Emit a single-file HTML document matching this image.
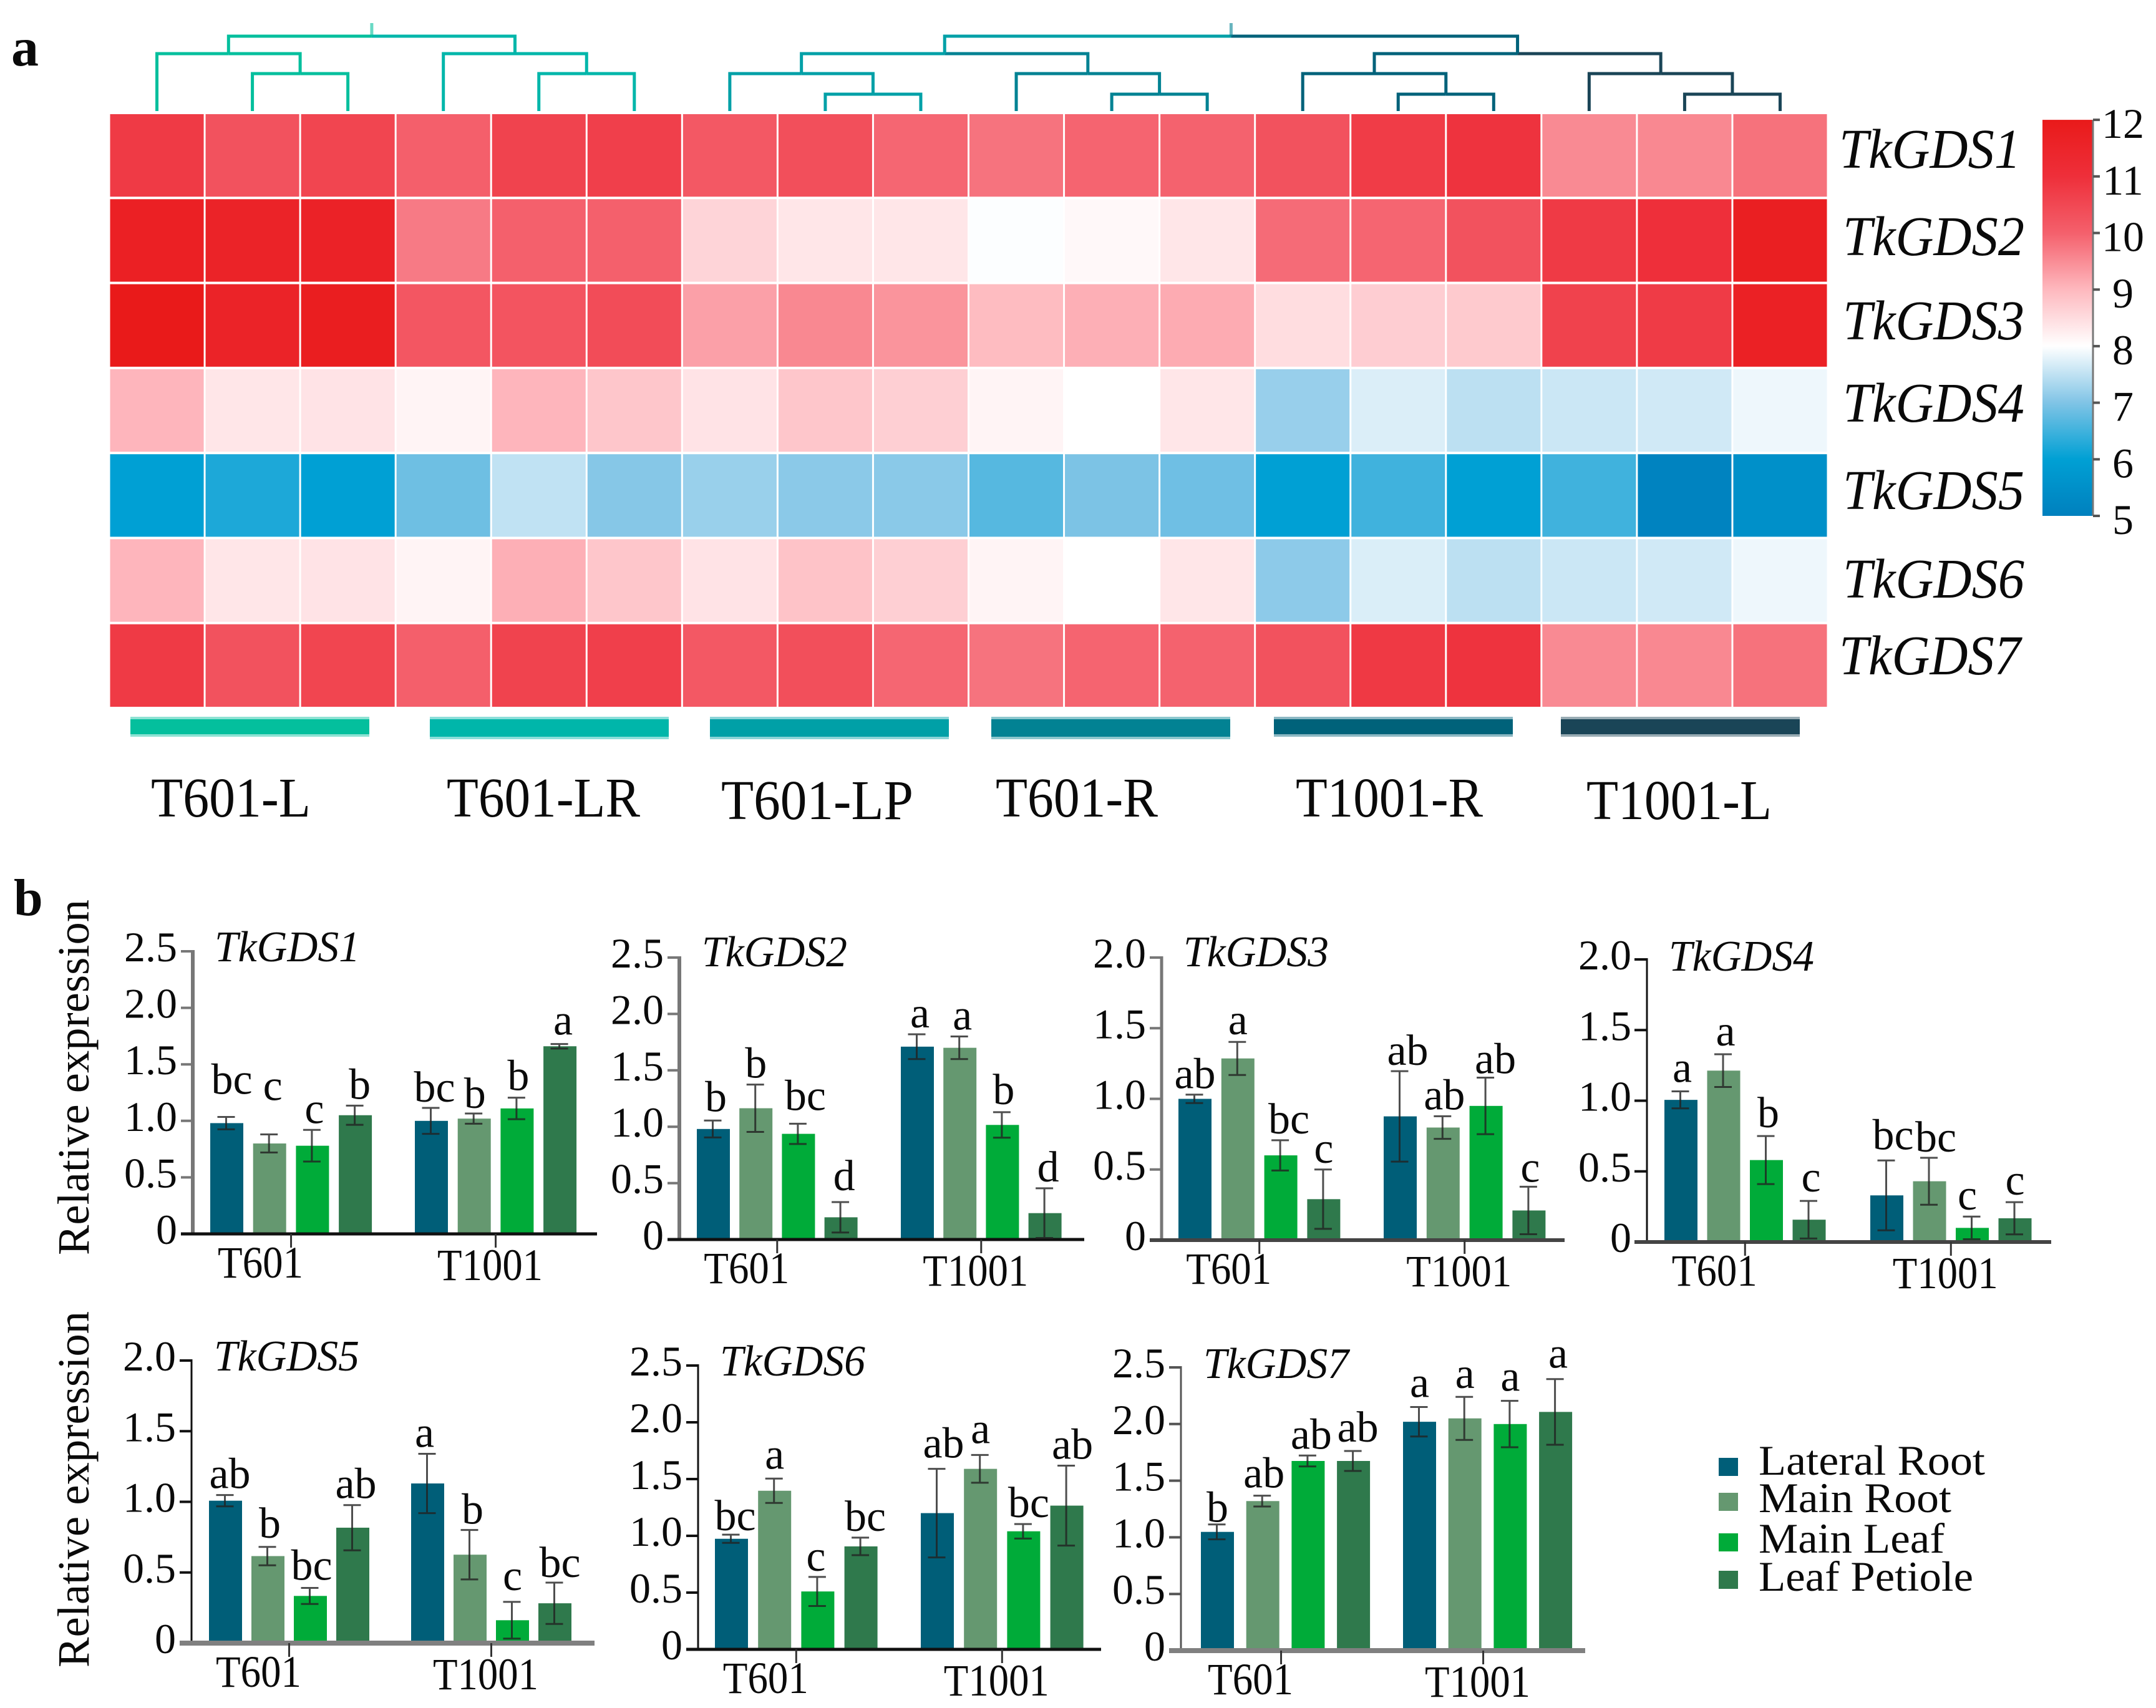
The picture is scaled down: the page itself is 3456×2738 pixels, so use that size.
<!DOCTYPE html>
<html lang="en">
<head>
<meta charset="utf-8">
<title>TkGDS expression heatmap and bar charts</title>
<style>
html,body{margin:0;padding:0;background:#fff;width:3456px;height:2738px;overflow:hidden}
svg{display:block}
text{font-family:"Liberation Serif","DejaVu Serif",serif;fill:#0a0a0a}
</style>
</head>
<body>
<svg id="figure" xmlns="http://www.w3.org/2000/svg" width="3456" height="2738" viewBox="0 0 3456 2738">
  <rect x="0" y="0" width="3456" height="2738" fill="#ffffff"/>
  <text x="18" y="105" font-size="88" font-weight="700">a</text>
  <text x="22" y="1467" font-size="84" font-weight="700">b</text>
  <defs><linearGradient id="cbarGradient" x1="0" y1="1" x2="0" y2="0"></linearGradient></defs>
</svg>
<script>
// ---------- Heatmap data ----------
const sampleCount = 18;
const geneNames = ['TkGDS1','TkGDS2','TkGDS3','TkGDS4','TkGDS5','TkGDS6','TkGDS7'];
const exprGDS1 = [10.78,10.29,10.55,10.02,10.6,10.67,10.16,10.35,9.93,9.78,9.95,9.98,10.29,10.73,10.92,9.52,9.55,9.8];
const exprGDS2 = [11.7,11.57,11.6,9.7,10,10,8.6,8.35,8.35,7.98,8.1,8.35,9.87,9.94,10.29,10.78,11.0,11.76];
const exprGDS3 = [12,11.57,11.8,10.2,10.25,10.41,9.27,9.55,9.41,8.95,9.1,9.15,8.48,8.7,8.75,10.62,10.76,11.65];
const exprGDS4 = [9.03,8.35,8.39,8.15,9.03,8.8,8.39,8.8,8.68,8.15,8,8.35,7.19,7.72,7.47,7.59,7.63,7.87];
const exprGDS5 = [6.0,6.23,6.0,6.86,7.5,7.05,7.2,7.09,7.08,6.67,6.97,6.87,6.0,6.5,6.0,6.5,5.1,5.5];
const exprGDS6 = [9.03,8.35,8.39,8.15,9.1,8.8,8.39,8.85,8.68,8.15,8,8.35,7.1,7.71,7.47,7.59,7.63,7.87];
const exprGDS7 = [10.78,10.29,10.55,10.02,10.6,10.67,10.16,10.35,9.93,9.78,9.95,9.98,10.29,10.8,10.92,9.52,9.55,9.8];
const colorbarTicks = [5,6,7,8,9,10,11,12];
const colorStops = [[5,'#0080be'],[6,'#00a0d4'],[7,'#80c4e6'],[8,'#ffffff'],[9,'#feb8be'],[10,'#f4606c'],[11,'#ee2f3a'],[12,'#e91a1a']];
const sampleGroups = ['T601-L','T601-LR','T601-LP','T601-R','T1001-R','T1001-L'];
const groupColors = ['#04bf9d','#00b6aa','#00a0a7','#028293','#00627a','#1a4557'];
// dendrogram: [merge height, left, right]; a bare number is a leaf index
const dendroLeft = [120,[92,0,[60,1,2]],[92,3,[60,4,5]]];
const dendroRight = [120,[92,[60,6,[27,7,8]],[60,9,[27,10,11]]],[92,[60,12,[27,13,14]],[60,15,[27,16,17]]]];

// ---------- Bar chart data ----------
const tissues = ['Lateral Root','Main Root','Main Leaf','Leaf Petiole'];
const tissueColors = ['#005e78','#659870','#00ab39','#2f794c'];
const cultivars = ['T601','T1001'];
const ticks25 = ['0','0.5','1.0','1.5','2.0','2.5'];
const ticks20 = ['0','0.5','1.0','1.5','2.0'];

const values1 = [0.98,0.80,0.78,1.05,1.00,1.02,1.11,1.66];
const errors1 = [0.055,0.08,0.14,0.085,0.115,0.045,0.095,0.02];
const letters1 = ['bc','c','c','b','bc','b','b','a'];

const values2 = [0.98,1.164,0.937,0.197,1.71,1.70,1.016,0.234];
const errors2 = [0.075,0.21,0.09,0.135,0.11,0.10,0.113,0.22];
const letters2 = ['b','b','bc','d','a','a','b','d'];

const values3 = [1.0,1.286,0.60,0.29,0.876,0.797,0.95,0.21];
const errors3 = [0.03,0.117,0.107,0.21,0.32,0.08,0.20,0.168];
const letters3 = ['ab','a','bc','c','ab','ab','ab','c'];

const values4 = [1.006,1.213,0.58,0.158,0.33,0.43,0.10,0.168];
const errors4 = [0.06,0.116,0.17,0.133,0.247,0.166,0.08,0.114];
const letters4 = ['a','a','b','c','bc','bc','c','c'];

const values5 = [1.008,0.616,0.334,0.817,1.13,0.626,0.162,0.282];
const errors5 = [0.04,0.065,0.057,0.16,0.21,0.175,0.13,0.146];
const letters5 = ['ab','b','bc','ab','a','b','c','bc'];

const values6 = [0.974,1.397,0.51,0.907,1.2,1.59,1.04,1.266];
const errors6 = [0.036,0.107,0.128,0.077,0.39,0.122,0.064,0.352];
const letters6 = ['bc','a','c','bc','ab','a','bc','ab'];

const values7 = [1.048,1.32,1.674,1.674,2.02,2.05,2.0,2.107];
const errors7 = [0.066,0.048,0.048,0.088,0.13,0.19,0.205,0.29];
const letters7 = ['b','ab','ab','ab','a','a','a','a'];

// ---------- Helpers ----------
const svg = document.getElementById('figure');
const NS = 'http://www.w3.org/2000/svg';
function make(tag, attrs, parent){
  const el = document.createElementNS(NS, tag);
  for (const k in attrs) el.setAttribute(k, attrs[k]);
  (parent || svg).appendChild(el);
  return el;
}
function makeText(str, attrs, parent){
  const el = make('text', attrs, parent);
  el.textContent = str;
  return el;
}
function hexToRgb(h){ return [1,3,5].map(i => parseInt(h.substr(i,2),16)); }
function colorFor(v){
  const c = Math.max(colorStops[0][0], Math.min(colorStops[colorStops.length-1][0], v));
  for (let i = 0; i < colorStops.length-1; i++){
    const a = colorStops[i], b = colorStops[i+1];
    if (c <= b[0]){
      const t = (c-a[0])/(b[0]-a[0]);
      const A = hexToRgb(a[1]), B = hexToRgb(b[1]);
      return 'rgb(' + A.map((x,j) => Math.round(x+(B[j]-x)*t)).join(',') + ')';
    }
  }
  return colorStops[colorStops.length-1][1];
}

// ---------- Heatmap ----------
const heatLeft = 175, heatTop = 181, heatRight = 2930, heatBottom = 1135;
const cellW = (heatRight-heatLeft)/sampleCount;
const cellH = (heatBottom-heatTop)/geneNames.length;
const heatRows = [exprGDS1,exprGDS2,exprGDS3,exprGDS4,exprGDS5,exprGDS6,exprGDS7];
const colX = i => heatLeft + i*cellW;
const colMid = i => heatLeft + (i+0.5)*cellW;
const rowY = i => heatTop + i*cellH;
const heatGroup = make('g', {});


heatRows.forEach((row, r) => {
  row.forEach((v, c) => {
    const cell = make('rect', {x: colX(c)+1.5, y: rowY(r)+2, width: cellW-3, height: cellH-4, fill: colorFor(v)}, heatGroup);
    
    
  });
});
const geneLabelBaselines = [269,409,544,676,816,958,1081];
geneNames.forEach((g, r) => {
  const startX = (r === 0 || r === 6) ? 2948 : 2954;
  const lab = makeText(g, {x: startX, y: geneLabelBaselines[r], 'font-size': 90, 'font-style': 'italic', textLength: 291, lengthAdjust: 'spacingAndGlyphs'});
  
  
});

// ---------- Sample group bars and labels ----------
const groupBarLefts = [209,689,1138,1589,2042,2502];
const groupBarBottoms = [1177,1181,1181,1181,1177,1177];
const groupLabelLayout = [[242,256,1309],[716,310,1309],[1156,308,1313],[1596,260,1309],[2077,300,1309],[2543,297,1313]];
sampleGroups.forEach((g, i) => {
  const edge = make('rect', {x: groupBarLefts[i], y: 1149, width: 383, height: groupBarBottoms[i]-1149+4, fill: groupColors[i], opacity: 0.45});
  
  
  const bar = make('rect', {x: groupBarLefts[i], y: 1153, width: 383, height: groupBarBottoms[i]-1153, fill: groupColors[i]});
  
  
  const L = groupLabelLayout[i];
  const lab = makeText(g, {x: L[0], y: L[2], 'font-size': 90, textLength: L[1], lengthAdjust: 'spacingAndGlyphs'});
  
  
});

// ---------- Dendrogram ----------
const dendroY = h => 178 - h;
const leafGroup = i => Math.floor(i/3);
function firstLeaf(n){ return typeof n === 'number' ? n : firstLeaf(n[1]); }
const dendroG = make('g', {fill: 'none', 'stroke-width': 5});


function drawNode(n){
  if (typeof n === 'number') return {x: colMid(n), h: 0};
  const a = drawNode(n[1]), b = drawNode(n[2]);
  const mid = (a.x+b.x)/2, y = dendroY(n[0]);
  [[a,n[1]],[b,n[2]]].forEach(pair => {
    const child = pair[0], col = groupColors[leafGroup(firstLeaf(pair[1]))];
    const link = make('path', {d: 'M' + mid + ' ' + y + 'H' + child.x + 'V' + dendroY(child.h), stroke: col}, dendroG);
    
    
  });
  return {x: mid, h: n[0]};
}
[dendroLeft, dendroRight].forEach((tree, i) => {
  const root = drawNode(tree);
  const stem = make('path', {d: 'M' + root.x + ' ' + dendroY(root.h) + 'V37', stroke: groupColors[i === 0 ? 0 : 3], opacity: 0.6}, dendroG);
  
  
});

// ---------- Colour bar ----------
const cbarY = v => 827 - (v-5)*90.7;
const grad = document.getElementById('cbarGradient');
colorStops.forEach(s => {
  make('stop', {offset: ((s[0]-5)/7*100) + '%', 'stop-color': s[1]}, grad);
});
const cbar = make('rect', {x: 3274, y: cbarY(12), width: 80, height: cbarY(5)-cbarY(12), fill: 'url(#cbarGradient)'});


const cbarAxis = make('line', {x1: 3355, x2: 3355, y1: cbarY(12), y2: cbarY(5), stroke: '#777', 'stroke-width': 3});


colorbarTicks.forEach(v => {
  const t = make('line', {x1: 3355, x2: 3366, y1: cbarY(v), y2: cbarY(v), stroke: '#555', 'stroke-width': 4});
  
  
  const lab = makeText(String(v), {x: 3403, y: cbarY(v)+29, 'font-size': 68, 'text-anchor': 'middle'});
  
  
});

// ---------- Letter placement (layout only, relative to each error cap) ----------
const letterGaps1 = [37,55,11,11,10,9,12,15];
const letterGaps2 = [15,11,22,19,11,11,13,11];
const letterGaps3 = [10,12,11,11,10,11,7,8];
const letterGaps4 = [15,14,14,15,18,10,11,12];
const letterGaps5 = [11,15,13,11,11,10,19,9];
const letterGaps6 = [7,16,10,11,18,19,11,11];
const letterGaps7 = [4,13,11,15,16,14,16,18];
const letterShifts1 = [8,5,3,7,5,1,2,5];
const letterShifts2 = [4,0,11,5,4,4,2,5];
const letterShifts3 = [0,0,13,0,12,2,15,2];
const letterShifts4 = [2,3,3,3,10,10,-8,0];
const letterShifts5 = [7,3,2,5,-5,4,0,8];
const letterShifts6 = [6,0,-3,7,10,0,8,9];
const letterShifts7 = [0,2,5,7,0,0,0,4];

// ---------- Bar charts ----------
function drawChart(c, values, errors, letters, gaps, shifts){
  const g = make('g', {});
  
  
  const maxV = parseFloat(c.ticks[c.ticks.length-1]);
  const yScale = v => c.zero - v*(c.zero-c.top)/maxV;
  const barW = 53;
  const barX = i => (i < 4 ? c.g1 + i*c.pitch : c.g2 + (i-4)*c.pitch);

  values.forEach((v, i) => {
    const y = yScale(v);
    const bar = make('rect', {x: barX(i), y: y, width: barW, height: c.zero-y, fill: tissueColors[i%4]}, g);
    
    
  });

  const axisY = make('line', {x1: c.axisX, x2: c.axisX, y1: c.top-2, y2: c.zero, stroke: c.yColor, 'stroke-width': c.yWidth}, g);
  
  
  const axisX = make('line', {x1: c.left, x2: c.right, y1: c.zero, y2: c.zero, stroke: c.xColor, 'stroke-width': c.xWidth}, g);
  
  

  c.ticks.forEach(t => {
    const y = yScale(parseFloat(t));
    if (parseFloat(t) > 0){
      const tick = make('line', {x1: c.left, x2: c.axisX, y1: y, y2: y, stroke: c.yColor, 'stroke-width': 4}, g);
      
      
    }
    const lab = makeText(t, {x: c.axisX-25, y: y+16, 'font-size': 68, 'text-anchor': 'end'}, g);
    
    
  });

  cultivars.forEach((name, k) => {
    const start = k === 0 ? barX(0) : barX(4);
    const end = (k === 0 ? barX(3) : barX(7)) + barW;
    const mid = (start+end)/2 + c.tickDx;
    const tick = make('line', {x1: mid, x2: mid, y1: c.zero, y2: c.zero+22, stroke: '#333', 'stroke-width': 3}, g);
    
    
    const w = k === 0 ? 137 : 169;
    const cx = mid + (k === 0 ? -49 : -9);
    const lab = makeText(name, {x: cx-w/2, y: c.zero + (k === 0 ? 70 : 74), 'font-size': 72, textLength: w, lengthAdjust: 'spacingAndGlyphs'}, g);
    
    
  });

  values.forEach((v, i) => {
    const center = barX(i) + barW/2;
    const cx = center - 1;
    const up = yScale(v + errors[i]), low = yScale(v - errors[i]);
    const err = make('path', {d: 'M' + cx + ' ' + up + 'V' + low + 'M' + (cx-14) + ' ' + up + 'H' + (cx+14) + 'M' + (cx-14) + ' ' + low + 'H' + (cx+14), stroke: '#222', 'stroke-width': 3, fill: 'none', opacity: 0.8}, g);
    
    
    const sig = makeText(letters[i], {x: center+shifts[i], y: up-gaps[i], 'font-size': 70, 'text-anchor': 'middle'}, g);
    
    
  });

  const title = makeText(c.title, {x: c.titleX, y: c.titleY, 'font-size': 70, 'font-style': 'italic', textLength: 233, lengthAdjust: 'spacingAndGlyphs'}, g);
  
  
}

drawChart({title:'TkGDS1',ticks:ticks25,axisX:309,top:1525,zero:1978,left:290,right:957,g1:337,g2:665,pitch:68.7,tickDx:0,titleX:344,titleY:1541,yColor:'#777',yWidth:6,xColor:'#111',xWidth:5}, values1, errors1, letters1, letterGaps1, letterShifts1);
drawChart({title:'TkGDS2',ticks:ticks25,axisX:1089,top:1535,zero:1987,left:1070,right:1738,g1:1117,g2:1444,pitch:68.2,tickDx:0,titleX:1125,titleY:1549,yColor:'#777',yWidth:6,xColor:'#111',xWidth:5}, values2, errors2, letters2, letterGaps2, letterShifts2);
drawChart({title:'TkGDS3',ticks:ticks20,axisX:1862,top:1535,zero:1988,left:1843,right:2508,g1:1889,g2:2218,pitch:68.8,tickDx:0,titleX:1897,titleY:1549,yColor:'#777',yWidth:5,xColor:'#444',xWidth:6}, values3, errors3, letters3, letterGaps3, letterShifts3);
drawChart({title:'TkGDS4',ticks:ticks20,axisX:2640,top:1538,zero:1991,left:2620,right:3288,g1:2668,g2:2998,pitch:68.5,tickDx:0,titleX:2675,titleY:1556,yColor:'#111',yWidth:3,xColor:'#444',xWidth:6}, values4, errors4, letters4, letterGaps4, letterShifts4);
drawChart({title:'TkGDS5',ticks:ticks20,axisX:307,top:2181,zero:2634,left:288,right:953,g1:335,g2:659,pitch:68,tickDx:0,titleX:343,titleY:2197,yColor:'#111',yWidth:3,xColor:'#808080',xWidth:8}, values5, errors5, letters5, letterGaps5, letterShifts5);
drawChart({title:'TkGDS6',ticks:ticks25,axisX:1119,top:2189,zero:2644,left:1100,right:1765,g1:1146,g2:1476,pitch:69.2,tickDx:0,titleX:1154,titleY:2205,yColor:'#111',yWidth:3,xColor:'#111',xWidth:5}, values6, errors6, letters6, letterGaps6, letterShifts6);
drawChart({title:'TkGDS7',ticks:ticks25,axisX:1893,top:2192,zero:2646,left:1874,right:2541,g1:1925,g2:2249,pitch:72.7,tickDx:-7,titleX:1929,titleY:2209,yColor:'#555',yWidth:3,xColor:'#808080',xWidth:8}, values7, errors7, letters7, letterGaps7, letterShifts7);

// ---------- Shared y-axis titles ----------
[[1442,2012],[2102,2673]].forEach(span => {
  const t = makeText('Relative expression', {x: 0, y: 0, 'font-size': 72, textLength: span[1]-span[0], lengthAdjust: 'spacingAndGlyphs', transform: 'translate(142,' + span[1] + ') rotate(-90)'});
  
  
});

// ---------- Legend ----------
const legendRows = [[2337,2364,363],[2393,2424,309],[2458,2489,298],[2518,2550,344]];
tissues.forEach((name, i) => {
  const L = legendRows[i];
  const sw = make('rect', {x: 2755, y: L[0], width: 31, height: 29, fill: tissueColors[i]});
  
  
  const lab = makeText(name, {x: 2819, y: L[1], 'font-size': 68, textLength: L[2], lengthAdjust: 'spacingAndGlyphs'});
  
  
});
</script>
</body>
</html>
